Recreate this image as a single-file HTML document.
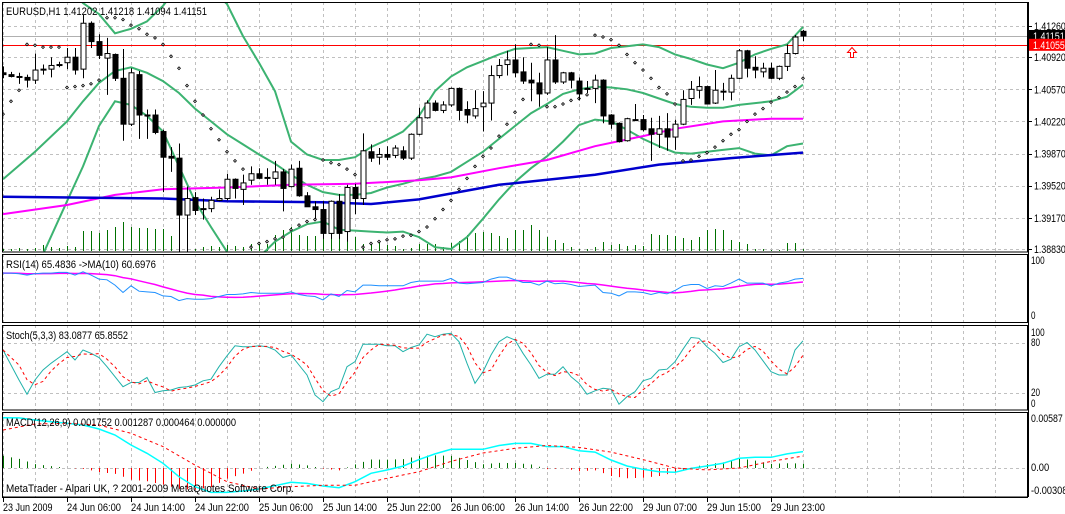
<!DOCTYPE html>
<html><head><meta charset="utf-8"><style>
html,body{margin:0;padding:0;background:#fff;}
svg{display:block;font-family:"Liberation Sans",sans-serif;}
</style></head><body>
<svg id="chart" width="1065" height="514" viewBox="0 0 1065 514" xmlns="http://www.w3.org/2000/svg">
<defs>
<clipPath id="cMain"><rect x="2" y="2" width="1026" height="250"/></clipPath>
<clipPath id="cRsi"><rect x="2" y="254" width="1026" height="68"/></clipPath>
<clipPath id="cSto"><rect x="2" y="325" width="1026" height="85"/></clipPath>
<clipPath id="cMacd"><rect x="2" y="412" width="1026" height="85"/></clipPath>
</defs>
<g id="grid"></g>
<g id="main" clip-path="url(#cMain)"></g>
<g id="rsi" clip-path="url(#cRsi)"></g>
<g id="sto" clip-path="url(#cSto)"></g>
<g id="macd" clip-path="url(#cMacd)"></g>
<g id="frame" fill="none" stroke="#000" stroke-width="1">
<rect x="2.5" y="2.5" width="1025" height="249.5"/>
<rect x="2.5" y="254.5" width="1025" height="68"/>
<rect x="2.5" y="325.5" width="1025" height="84.5"/>
<rect x="2.5" y="412.5" width="1025" height="84.5"/>
</g>
<g id="axes" font-size="11" fill="#000"></g>
<g font-size="11" fill="#000">
<text x="6" y="15" textLength="201" lengthAdjust="spacingAndGlyphs">EURUSD,H1  1.41202 1.41218 1.41094 1.41151</text>
<text x="6" y="268" textLength="150" lengthAdjust="spacingAndGlyphs">RSI(14) 65.4836  -&gt;MA(10) 60.6976</text>
<text x="6" y="339" textLength="122" lengthAdjust="spacingAndGlyphs">Stoch(5,3,3) 83.0877 65.8552</text>
<text x="6" y="426" textLength="230" lengthAdjust="spacingAndGlyphs">MACD(12,26,9) 0.001752 0.001287 0.000464 0.000000</text>
<text x="6" y="492" textLength="288" lengthAdjust="spacingAndGlyphs">MetaTrader - Alpari UK, ? 2001-2009 MetaQuotes Software Corp.</text>
</g>
<path d="M850.5 57.5 v-5 h-3 l4.5 -5 l4.5 5 h-3 v5 z" fill="none" stroke="#f00" stroke-width="1"/>
</svg>
<script>
const opens=[1.4075,1.4073,1.4071,1.4070,1.4067,1.4079,1.4079,1.4084,1.4086,1.4092,1.4079,1.4129,1.4109,1.4091,1.4095,1.4069,1.4019,1.4073,1.4029,1.4029,1.4011,1.3984,1.3982,1.3920,1.3939,1.3927,1.3927,1.3936,1.3938,1.3959,1.3948,1.3958,1.3965,1.3961,1.3960,1.3967,1.3951,1.3971,1.3941,1.3929,1.3926,1.3900,1.3935,1.3902,1.3950,1.3938,1.3989,1.3983,1.3986,1.3985,1.3990,1.3982,1.4008,1.4026,1.4042,1.4034,1.4040,1.4058,1.4035,1.4028,1.4038,1.4042,1.4072,1.4084,1.4089,1.4076,1.4067,1.4064,1.4053,1.4089,1.4065,1.4075,1.4066,1.4058,1.4058,1.4067,1.4029,1.4020,1.4001,1.4024,1.4024,1.4014,1.4008,1.4014,1.4005,1.4019,1.4047,1.4056,1.4060,1.4042,1.4055,1.4054,1.4069,1.4099,1.4081,1.4076,1.4080,1.4069,1.4082,1.4096,1.41202];
const highs=[1.4082,1.4076,1.4075,1.4073,1.4096,1.4084,1.4092,1.4087,1.4102,1.4102,1.4138,1.4131,1.4117,1.4113,1.4096,1.4101,1.4080,1.4077,1.4035,1.4035,1.4013,1.3994,1.3998,1.3951,1.3945,1.3938,1.3940,1.3948,1.3965,1.3960,1.3964,1.3973,1.3971,1.3971,1.3979,1.3970,1.3975,1.3979,1.3945,1.3935,1.3935,1.3936,1.3943,1.3953,1.3954,1.4009,1.3997,1.3993,1.3995,1.3996,1.3995,1.4009,1.4037,1.4045,1.4045,1.4044,1.4059,1.4059,1.4044,1.4056,1.4055,1.4083,1.4090,1.4099,1.4106,1.4092,1.4086,1.4075,1.4103,1.4116,1.4076,1.4076,1.4070,1.4066,1.4073,1.4068,1.4030,1.4021,1.4026,1.4041,1.4029,1.4026,1.4028,1.4031,1.4024,1.4056,1.4066,1.4071,1.4061,1.4078,1.4064,1.4073,1.4101,1.4100,1.4093,1.4086,1.4086,1.4083,1.4106,1.4116,1.41218];
const lows=[1.4069,1.4070,1.4063,1.4059,1.4063,1.4073,1.4070,1.4081,1.4079,1.4073,1.4069,1.4102,1.4090,1.4051,1.4066,1.4001,1.4017,1.4003,1.4003,1.4008,1.3945,1.3967,1.3878,1.3880,1.3920,1.3915,1.3923,1.3935,1.3936,1.3938,1.3931,1.3953,1.3959,1.3953,1.3953,1.3924,1.3950,1.3940,1.3929,1.3916,1.3894,1.3894,1.3894,1.3891,1.3921,1.3931,1.3978,1.3975,1.3980,1.3982,1.3980,1.3980,1.4007,1.4025,1.4033,1.4031,1.4038,1.4023,1.4020,1.4025,1.4011,1.4023,1.4069,1.4072,1.4070,1.4063,1.4044,1.4038,1.4051,1.4063,1.4063,1.4058,1.4045,1.4053,1.4042,1.4020,1.4014,1.3999,1.4000,1.4023,1.4011,1.3979,1.3993,1.3990,1.3991,1.4018,1.4040,1.4047,1.4041,1.4041,1.4045,1.4045,1.4068,1.4070,1.4069,1.4070,1.4068,1.4067,1.4077,1.4095,1.41094];
const closes=[1.4073,1.4071,1.4070,1.4067,1.4078,1.4078,1.4083,1.4083,1.4092,1.4078,1.4129,1.4109,1.4094,1.4096,1.4069,1.4019,1.4075,1.4029,1.4028,1.4010,1.3983,1.3982,1.3920,1.3938,1.3925,1.3926,1.3936,1.3938,1.3959,1.3949,1.3955,1.3965,1.3960,1.3960,1.3967,1.3949,1.3970,1.3941,1.3929,1.3926,1.3900,1.3935,1.3900,1.3950,1.3938,1.3990,1.3982,1.3986,1.3983,1.3993,1.3982,1.4008,1.4026,1.4042,1.4034,1.4040,1.4058,1.4034,1.4029,1.4036,1.4042,1.4072,1.4083,1.4089,1.4075,1.4066,1.4064,1.4052,1.4089,1.4065,1.4075,1.4067,1.4052,1.4057,1.4067,1.4028,1.4019,1.4000,1.4025,1.4023,1.4013,1.4008,1.4014,1.4005,1.4019,1.4046,1.4057,1.4060,1.4041,1.4056,1.4054,1.4069,1.4099,1.4080,1.4078,1.4080,1.4069,1.4082,1.4096,1.4114,1.41151];
const volumes=[2,2,3,2,3,6,4,3,5,4,20,20,18,21,24,29,24,23,23,22,22,15,6,6,2,4,5,4,6,5,4,7,9,7,16,21,24,16,15,15,21,15,16,17,14,7,8,10,6,5,2,3,7,7,7,4,8,10,16,18,19,18,15,13,21,21,26,21,14,11,8,4,2,2,4,9,6,7,5,6,5,17,16,16,15,13,11,14,21,22,21,11,9,7,2,2,1,1,8,8,2];
const bandIdx=[0,4,8,10,12,14,16,18,20,22,24,26,28,30,32,34,36,38,40,42,44,46,48,50,52,54,56,58,60,62,64,66,68,70,72,74,76,78,80,82,84,86,88,90,92,94,96,98,100];
const bandUpper=[1.4219,1.4203,1.4170,1.4151,1.4139,1.4118,1.4123,1.4131,1.4148,1.4170,1.4181,1.4166,1.4150,1.4115,1.4086,1.4055,1.4000,1.3986,1.3980,1.3980,1.3983,1.3994,1.4002,1.4011,1.4028,1.4055,1.4071,1.4081,1.4088,1.4095,1.4101,1.4102,1.4103,1.4099,1.4095,1.4096,1.4102,1.4104,1.4106,1.4103,1.4095,1.4090,1.4084,1.4080,1.4086,1.4095,1.4101,1.4106,1.4125];
const bandMiddle=[1.3959,1.3989,1.4022,1.4044,1.4064,1.4077,1.4081,1.4075,1.4066,1.4053,1.4036,1.4022,1.4008,1.3997,1.3986,1.3976,1.3964,1.3953,1.3945,1.3942,1.3942,1.3944,1.3950,1.3954,1.3959,1.3962,1.3967,1.3978,1.3989,1.4003,1.4017,1.4031,1.4041,1.4052,1.4057,1.4060,1.4059,1.4057,1.4053,1.4047,1.4041,1.4038,1.4037,1.4037,1.4040,1.4042,1.4044,1.4049,1.4062];
const bandLower=[1.3787,1.3858,1.3935,1.3973,1.4017,1.4044,1.4040,1.4028,1.4011,1.3973,1.3935,1.3907,1.3880,1.3867,1.3874,1.3891,1.3902,1.3910,1.3913,1.3904,1.3903,1.3902,1.3901,1.3902,1.3896,1.3885,1.3883,1.3896,1.3916,1.3937,1.3956,1.3971,1.3984,1.4000,1.4018,1.4024,1.4022,1.4013,1.4003,1.3995,1.3988,1.3987,1.3989,1.3991,1.3993,1.3987,1.3985,1.3995,1.3998];
const maFastIdx=[0,8,14,20,28,36,44,52,56,62,68,74,80,84,90,96,100];
const maFast=[1.3921,1.3931,1.3942,1.3948,1.3950,1.3953,1.3954,1.3958,1.3961,1.3971,1.3980,1.3995,1.4006,1.4014,1.4022,1.4025,1.4025];
const maSlowIdx=[0,20,28,40,46,52,62,74,82,91,100];
const maSlow=[1.3940,1.3938,1.3935,1.3934,1.3932,1.3937,1.3953,1.3964,1.3975,1.3982,1.3988];
const sar=[1.4030,1.4044,1.4056,1.4106,1.4105,1.4103,1.4103,1.4103,1.4059,1.4060,1.4061,1.4063,1.4067,1.4135,1.4135,1.4133,1.4127,1.4123,1.4117,1.4113,1.4106,1.4093,1.4080,1.4061,1.4044,1.4029,1.4014,1.4002,1.3989,1.3979,1.3970,1.3885,1.3889,1.3891,1.3894,1.3896,1.3904,1.3909,1.3913,1.3915,1.3980,1.3977,1.3975,1.3970,1.3964,1.3885,1.3889,1.3891,1.3893,1.3894,1.3897,1.3898,1.3902,1.3907,1.3916,1.3926,1.3936,1.3948,1.3960,1.3973,1.3984,1.3993,1.4006,1.4019,1.4032,1.4046,1.4106,1.4105,1.4038,1.4038,1.4041,1.4045,1.4047,1.4051,1.4116,1.4114,1.4111,1.4105,1.4095,1.4086,1.4078,1.4069,1.4059,1.4052,1.4041,1.3979,1.3980,1.3984,1.3988,1.3994,1.4001,1.4008,1.4013,1.4022,1.4030,1.4036,1.4043,1.4048,1.4054,1.4060,1.4069];
const rsiValues=[73,73,72,70,72,73,73,74,74,70,75,70,64,63,55,44,54,46,45,44,39,38,32,35,34,34,35,38,41,41,42,44,43,43,43,43,45,41,39,38,33,42,38,47,45,55,55,54,54,54,54,59,61,61,61,61,65,58,57,58,59,64,67,67,63,59,59,55,61,57,58,56,53,54,55,44,43,39,45,45,44,41,44,42,47,54,56,56,50,54,53,58,64,58,58,58,54,58,60,64,65];
const stochMain=[72,54,36,19,36,48,56,63,70,60,72,68,63,52,40,28,33,33,39,21,23,24,27,28,30,35,37,52,65,77,76,76,77,76,72,63,66,54,42,18,10,22,26,52,58,79,79,79,77,77,70,75,78,91,88,91,92,82,56,32,46,66,82,88,84,68,54,38,43,43,52,40,32,19,23,26,25,7,16,22,35,38,48,49,58,73,87,86,76,68,57,61,76,81,72,59,46,42,42,72,83];
const macdIdx=[0,2,4,6,8,10,12,14,16,18,20,22,24,26,28,30,32,34,36,38,40,42,44,46,48,50,52,54,56,58,60,62,64,66,68,70,72,74,76,78,80,82,84,86,88,90,92,94,96,98,100];
const macdMain=[0.00537,0.00535,0.00512,0.00494,0.00477,0.00459,0.00416,0.00352,0.00245,0.00157,0.0005,-0.00093,-0.002,-0.0026,-0.0026,-0.00245,-0.00224,-0.00189,-0.00153,-0.00164,-0.00192,-0.0021,-0.00146,-0.00057,-0.00021,0.0002,0.0009,0.0015,0.002,0.002,0.002,0.0024,0.00263,0.00263,0.00228,0.00228,0.00185,0.0017,0.00085,0.00021,-0.00014,-0.0004,-0.00046,-0.00004,0.00021,0.0005,0.00103,0.00114,0.00114,0.0015,0.00175];
const signalIdx=[0,4,8,12,16,20,24,28,32,36,40,44,48,52,56,60,64,68,72,76,80,84,88,92,96,100];
const macdSignal=[0.00406,0.0047,0.00477,0.00459,0.0037,0.00228,0.00032,-0.00146,-0.00224,-0.002,-0.00185,-0.00185,-0.0011,-0.0004,0.0007,0.0016,0.0021,0.0024,0.0022,0.0017,0.0009,0.0000,-0.0002,0.0000,0.0007,0.00128];
const priceTicks=["1.41260","1.40920","1.40570","1.40220","1.39870","1.39520","1.39170","1.38830"];
const timeLabels=["23 Jun 2009","24 Jun 06:00","24 Jun 14:00","24 Jun 22:00","25 Jun 06:00","25 Jun 14:00","25 Jun 22:00","26 Jun 06:00","26 Jun 14:00","26 Jun 22:00","29 Jun 07:00","29 Jun 15:00","29 Jun 23:00"];
const bidPrice=1.41151, markerPrice=1.41055;

const NS="http://www.w3.org/2000/svg";
function xI(i){return 3+8*i;}
function yP(p){return 26+(1.4126-p)*(223/0.0243);}
function yR(v){return 322-v*0.67;}
function yS(v){return 410-v*0.8333;}
function yM(v){return 468-v*9370;}
function mk(tag,attrs,parent){const e=document.createElementNS(NS,tag);for(const k in attrs)e.setAttribute(k,attrs[k]);parent.appendChild(e);return e;}
function interp(idx,vals,i){for(let k=0;k<idx.length-1;k++){if(i>=idx[k]&&i<=idx[k+1]){const t=(i-idx[k])/(idx[k+1]-idx[k]);return vals[k]+t*(vals[k+1]-vals[k]);}}return vals[vals.length-1];}
function sma(arr,n){return arr.map((v,i)=>{const s=arr.slice(Math.max(0,i-n+1),i+1);return s.reduce((a,b)=>a+b,0)/s.length;});}
function poly(parent,idx,vals,yf,attrs,name){const pts=idx.map((i,k)=>xI(i)+","+yf(vals[k]).toFixed(1)).join(" ");const e=mk("polyline",Object.assign({points:pts,fill:"none"},attrs),parent);return e;}
function fitText(e,txt){e.textContent=txt;e.setAttribute('textLength',(txt.length*4.55).toFixed(1));e.setAttribute('lengthAdjust','spacingAndGlyphs');}

const grid=document.getElementById('grid');
for(let x=3;x<=1027;x+=32){
 [[2,252],[254,322],[325,410],[412,497]].forEach(r=>{
  const l=mk("line",{x1:x+0.5,x2:x+0.5,y1:r[0],y2:r[1],stroke:"#c0c0c0","stroke-dasharray":"3,3"},grid);
  
  
 });
}
priceTicks.forEach(t=>{const y=Math.round(yP(parseFloat(t)))+0.5;const l=mk("line",{x1:2,x2:1028,y1:y,y2:y,stroke:"#c0c0c0","stroke-dasharray":"3,3"},grid);});
[80,20].forEach(v=>{const y=Math.round(yS(v))+0.5;const l=mk("line",{x1:2,x2:1028,y1:y,y2:y,stroke:"#c0c0c0","stroke-dasharray":"3,3"},grid);});
{const y=Math.round(yM(0))+0.5;const l=mk("line",{x1:2,x2:1028,y1:y,y2:y,stroke:"#c0c0c0","stroke-dasharray":"3,3"},grid);}

const main=document.getElementById('main');
{const y=Math.round(yP(bidPrice))+0.5;const l=mk("line",{x1:2,x2:1028,y1:y,y2:y,stroke:"#b0b0b0"},main);}
{const y=Math.round(yP(markerPrice))+0.5;const l=mk("line",{x1:2,x2:1028,y1:y,y2:y,stroke:"#f00"},main);}
volumes.forEach((v,i)=>{const x=xI(i)+0.5;const l=mk("line",{x1:x,x2:x,y1:251,y2:251-v,stroke:"#007000"},main);});
const gcol="#3cb371";
poly(main,bandIdx,bandUpper,yP,{stroke:gcol,"stroke-width":2},"bollinger-upper");
poly(main,bandIdx,bandMiddle,yP,{stroke:gcol,"stroke-width":2},"bollinger-middle");
poly(main,bandIdx,bandLower,yP,{stroke:gcol,"stroke-width":2},"bollinger-lower");
poly(main,maFastIdx,maFast,yP,{stroke:"#ff00ff","stroke-width":2},"moving-average-magenta");
poly(main,maSlowIdx,maSlow,yP,{stroke:"#0000cd","stroke-width":2.5},"moving-average-blue");
sar.forEach((v,i)=>{const c=mk("rect",{x:xI(i)-1,y:yP(v)-1,width:2,height:2,fill:"#fff",stroke:"#000","stroke-width":0.8,transform:`rotate(45 ${xI(i)} ${yP(v)})`},main);});
opens.forEach((o,i)=>{
 const x=xI(i), c=closes[i];
 const w=mk("line",{x1:x+0.5,x2:x+0.5,y1:yP(highs[i]),y2:yP(lows[i]),stroke:"#000"},main);
 
 
 const top=Math.min(yP(o),yP(c)), h=Math.max(1,Math.abs(yP(o)-yP(c)));
 const b=mk("rect",{x:x-2,y:top,width:5,height:h,fill:c>=o?"#fff":"#000",stroke:"#000","stroke-width":1},main);
 
 
});

const rsi=document.getElementById('rsi');
const allIdx=rsiValues.map((v,i)=>i);
poly(rsi,allIdx,sma(rsiValues,10),yR,{stroke:"#ff00ff","stroke-width":1.5},"rsi-ma-line");
poly(rsi,allIdx,rsiValues,yR,{stroke:"#1e90ff","stroke-width":1},"rsi-line");
const sto=document.getElementById('sto');
poly(sto,allIdx,stochMain,yS,{stroke:"#20b2aa","stroke-width":1},"stochastic-main-line");
poly(sto,allIdx,sma(stochMain,3),yS,{stroke:"#f00","stroke-width":1,"stroke-dasharray":"3,3"},"stochastic-signal-line");
const macd=document.getElementById('macd');
for(let i=0;i<=100;i++){
 const d=interp(macdIdx,macdMain,i)-interp(signalIdx,macdSignal,i);
 const l=mk("line",{x1:xI(i)+0.5,x2:xI(i)+0.5,y1:yM(0),y2:yM(d),stroke:d>=0?"#007000":"#f00"},macd);
 
 
}
poly(macd,macdIdx,macdMain,yM,{stroke:"#00ffff","stroke-width":1.5},"macd-main-line");
poly(macd,signalIdx,macdSignal,yM,{stroke:"#f00","stroke-width":1,"stroke-dasharray":"3,3"},"macd-signal-line");

const ax=document.getElementById('axes');
{const l=mk("line",{x1:1028.5,x2:1028.5,y1:2,y2:497,stroke:"#000"},ax);}
{const l=mk("line",{x1:2,x2:1028,y1:497.5,y2:497.5,stroke:"#000"},ax);}
priceTicks.forEach(t=>{const y=yP(parseFloat(t));
 const tk=mk("line",{x1:1028,x2:1032,y1:Math.round(y)+0.5,y2:Math.round(y)+0.5,stroke:"#000"},ax);
 const e=mk("text",{x:1034,y:y+4},ax);fitText(e,t);});
function tag(p,txt,bg,name){const y=yP(p);const r=mk("rect",{x:1029,y:y-6,width:36,height:12,fill:bg},ax);const e=mk("text",{x:1033,y:y+4,fill:"#fff"},ax);fitText(e,txt);}
tag(bidPrice,"1.41151","#000","bid-price-tag");
tag(markerPrice,"1.41055","#f00","marker-price-tag");
[["100",264],["0",319],["100",336],["80",346],["20",396],["0",407],["0.00587",422],["0.00",471],["-0.00308",494]].forEach(a=>{const e=mk("text",{x:1031,y:a[1]},ax);fitText(e,a[0]);});
timeLabels.forEach((t,k)=>{const x=xI(k*8);
 const tk=mk("line",{x1:x+0.5,x2:x+0.5,y1:497,y2:502,stroke:"#000"},ax);
 const e=mk("text",{x:x,y:511},ax);e.textContent=t;e.setAttribute('textLength',(t.length*4.5).toFixed(1));e.setAttribute('lengthAdjust','spacingAndGlyphs');});
</script>
</body></html>
